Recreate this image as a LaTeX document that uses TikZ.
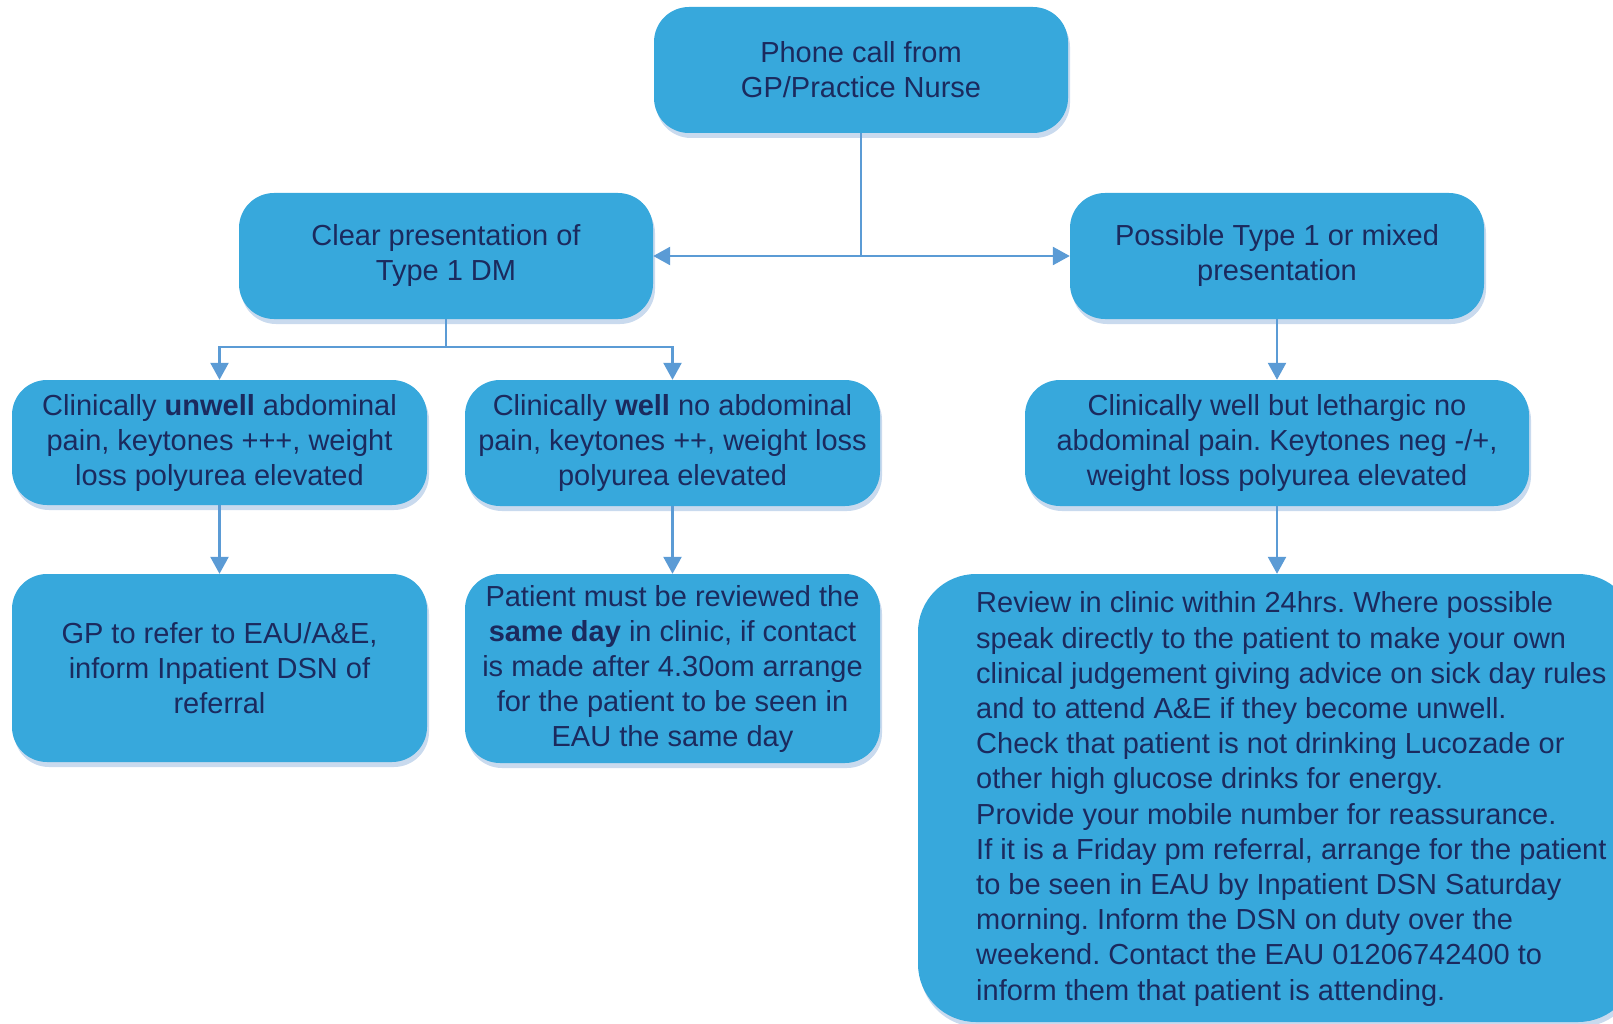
\documentclass[tikz,border=0pt]{standalone}
\usepackage{fontspec}
\setmainfont{Liberation Sans}
\frenchspacing
\usetikzlibrary{arrows.meta,shadows}
\definecolor{boxfill}{HTML}{37A8DC}
\definecolor{boxtext}{HTML}{1B2A5E}
\definecolor{linkc}{HTML}{5B9BD5}
\definecolor{shadowc}{HTML}{C9DAEE}
\tikzset{
  card/.style={rounded corners=35pt, fill=boxfill, text=boxtext, align=center,
    inner sep=0pt, font=\fontsize{29}{35}\selectfont,
    drop shadow={shadow xshift=2pt, shadow yshift=-5pt, fill=shadowc, opacity=1}},
  link/.style={draw=linkc, line width=2.5pt},
  arr/.style={link, -{Triangle[length=17pt,width=18pt]}},
}
\begin{document}
\begin{tikzpicture}[x=1pt,y=-1pt]
\useasboundingbox (0,0) rectangle (1613,1024);
\clip (0,0) rectangle (1613,1024);

% boxes
\node[card, minimum width=414pt, minimum height=126pt] (top) at (861,70)
  {Phone call from\\GP/Practice Nurse};
\node[card, minimum width=414pt, minimum height=126pt] (clear) at (446,256)
  {Clear presentation of\\Type 1 DM};
\node[card, minimum width=414pt, minimum height=126pt] (poss) at (1277,256)
  {Possible Type 1 or mixed\\presentation};
\node[card, minimum width=415pt, minimum height=125pt] (unwell) at (219.5,442.5)
  {Clinically \textbf{unwell} abdominal\\pain, keytones +++, weight\\loss polyurea elevated};
\node[card, minimum width=415pt, minimum height=126pt] (well) at (672.5,443)
  {Clinically \textbf{well} no abdominal\\pain, keytones ++, weight loss\\polyurea elevated};
\node[card, minimum width=504pt, minimum height=126pt] (leth) at (1277,443)
  {Clinically well but lethargic no\\abdominal pain. Keytones neg -/+,\\weight loss polyurea elevated};
\node[card, minimum width=415pt, minimum height=188pt] (gp) at (219.5,668)
  {GP to refer to EAU/A\&E,\\inform Inpatient DSN of\\referral};
\node[card, minimum width=415pt, minimum height=189pt] (pat) at (672.5,668.5)
  {Patient must be reviewed the\\\textbf{same day} in clinic, if contact\\is made after 4.30om arrange\\for the patient to be seen in\\EAU the same day};
\node[card, rounded corners=58pt, minimum width=718pt, minimum height=448pt] (big) at (1277,798) {};
\node[anchor=west, align=left, inner sep=0pt, text=boxtext,
  font=\fontsize{29}{35.2}\selectfont] (bigtext) at (976,799)
  {Review in clinic within 24hrs. Where possible\\
   speak directly to the patient to make your own\\
   clinical judgement giving advice on sick day rules\\
   and to attend A\&E if they become unwell.\\
   Check that patient is not drinking Lucozade or\\
   other high glucose drinks for energy.\\
   Provide your mobile number for reassurance.\\
   If it is a Friday pm referral, arrange for the patient\\
   to be seen in EAU by Inpatient DSN Saturday\\
   morning. Inform the DSN on duty over the\\
   weekend. Contact the EAU 01206742400 to\\
   inform them that patient is attending.};

% connectors
\draw[arr] (top.south) |- (clear.east);
\draw[arr] (top.south) |- (poss.west);
\coordinate (split) at (446,347);
\draw[link] (clear.south) -- (split);
\draw[arr] (split) -| (unwell.north);
\draw[arr] (split) -| (well.north);
\draw[arr] (unwell.south) -- (gp.north);
\draw[arr] (well.south) -- (pat.north);
\draw[arr] (poss.south) -- (leth.north);
\draw[arr] (leth.south) -- (big.north);
\end{tikzpicture}
\end{document}
